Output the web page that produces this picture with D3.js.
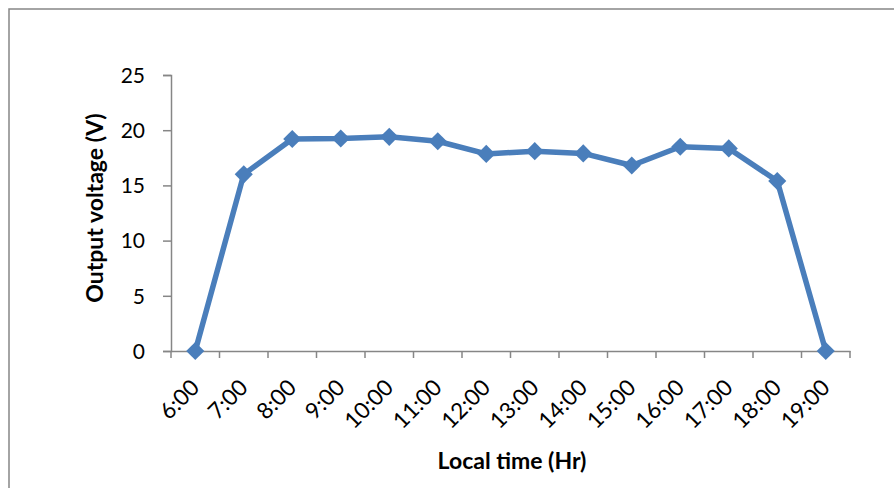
<!DOCTYPE html>
<html><head><meta charset="utf-8">
<script src="https://cdn.jsdelivr.net/npm/d3@7"></script>
<style>body{margin:0;background:#fff}svg{display:block}</style>
</head><body>
<svg id="c" width="894" height="488"></svg>
<script>
const categories = ["6:00","7:00","8:00","9:00","10:00","11:00","12:00","13:00","14:00","15:00","16:00","17:00","18:00","19:00"];
const voltage = [0, 16.0, 19.2, 19.25, 19.4, 19.0, 17.85, 18.1, 17.9, 16.8, 18.5, 18.35, 15.4, 0];
const yTicks = [0, 5, 10, 15, 20, 25];

const svg = d3.select("#c");
const font = "Lato, 'Open Sans', sans-serif";
svg.append("rect").attr("x",9).attr("y",9).attr("width",900).attr("height",500)
  .attr("fill","#fff").attr("stroke","#868686").attr("stroke-width",1.5);

const x = d3.scaleBand().domain(categories).range([171, 850]);
const y = d3.scaleLinear().domain([0, 25]).range([351, 75]);
const axisColor = "#868686";

const gy = svg.append("g").attr("transform","translate(171,0)")
  .call(d3.axisLeft(y).tickValues(yTicks).tickSize(8).tickPadding(18));
const gx = svg.append("g").attr("transform","translate(0,351)")
  .call(d3.axisBottom(x).tickSize(0).tickFormat(""));
const bounds = categories.map(c => x(c)).concat([x.range()[1]]);
gx.selectAll(".bt").data(bounds).enter().append("line")
  .attr("x1",d=>d).attr("x2",d=>d).attr("y1",0).attr("y2",7);
[gy,gx].forEach(g=>{g.selectAll("path,line").attr("stroke",axisColor).attr("stroke-width",1.5);});
gy.selectAll("text").attr("font-family",font).attr("font-size","21px").attr("fill","#000").attr("dy","0.35em");

gx.selectAll(".lbl").data(categories).enter().append("text")
  .attr("transform", d => `translate(${x(d)+x.bandwidth()/2+5.5},38) rotate(-45)`)
  .attr("text-anchor","end").attr("fill","#000")
  .attr("font-family",font).attr("font-size","22.5px").text(d=>d);

const line = d3.line().x((d,i)=>x(categories[i])+x.bandwidth()/2).y(d=>y(d));
svg.append("path").datum(voltage).attr("d",line)
  .attr("fill","none").attr("stroke","#4a7ebb").attr("stroke-width",5.5).attr("stroke-linejoin","round");
svg.selectAll(".pt").data(voltage).enter().append("path")
  .attr("d", d3.symbol().type(d3.symbolDiamond2).size(210))
  .attr("transform",(d,i)=>`translate(${x(categories[i])+x.bandwidth()/2},${y(d)})`)
  .attr("fill","#4a7ebb");

svg.append("text").attr("transform","translate(103,208) rotate(-90)")
  .attr("text-anchor","middle").attr("font-family",font).attr("font-weight","bold")
  .attr("font-size","23px").text("Output voltage (V)");
svg.append("text").attr("x",512).attr("y",469)
  .attr("text-anchor","middle").attr("font-family",font).attr("font-weight","bold")
  .attr("font-size","23px").text("Local time (Hr)");
</script>
</body></html>
